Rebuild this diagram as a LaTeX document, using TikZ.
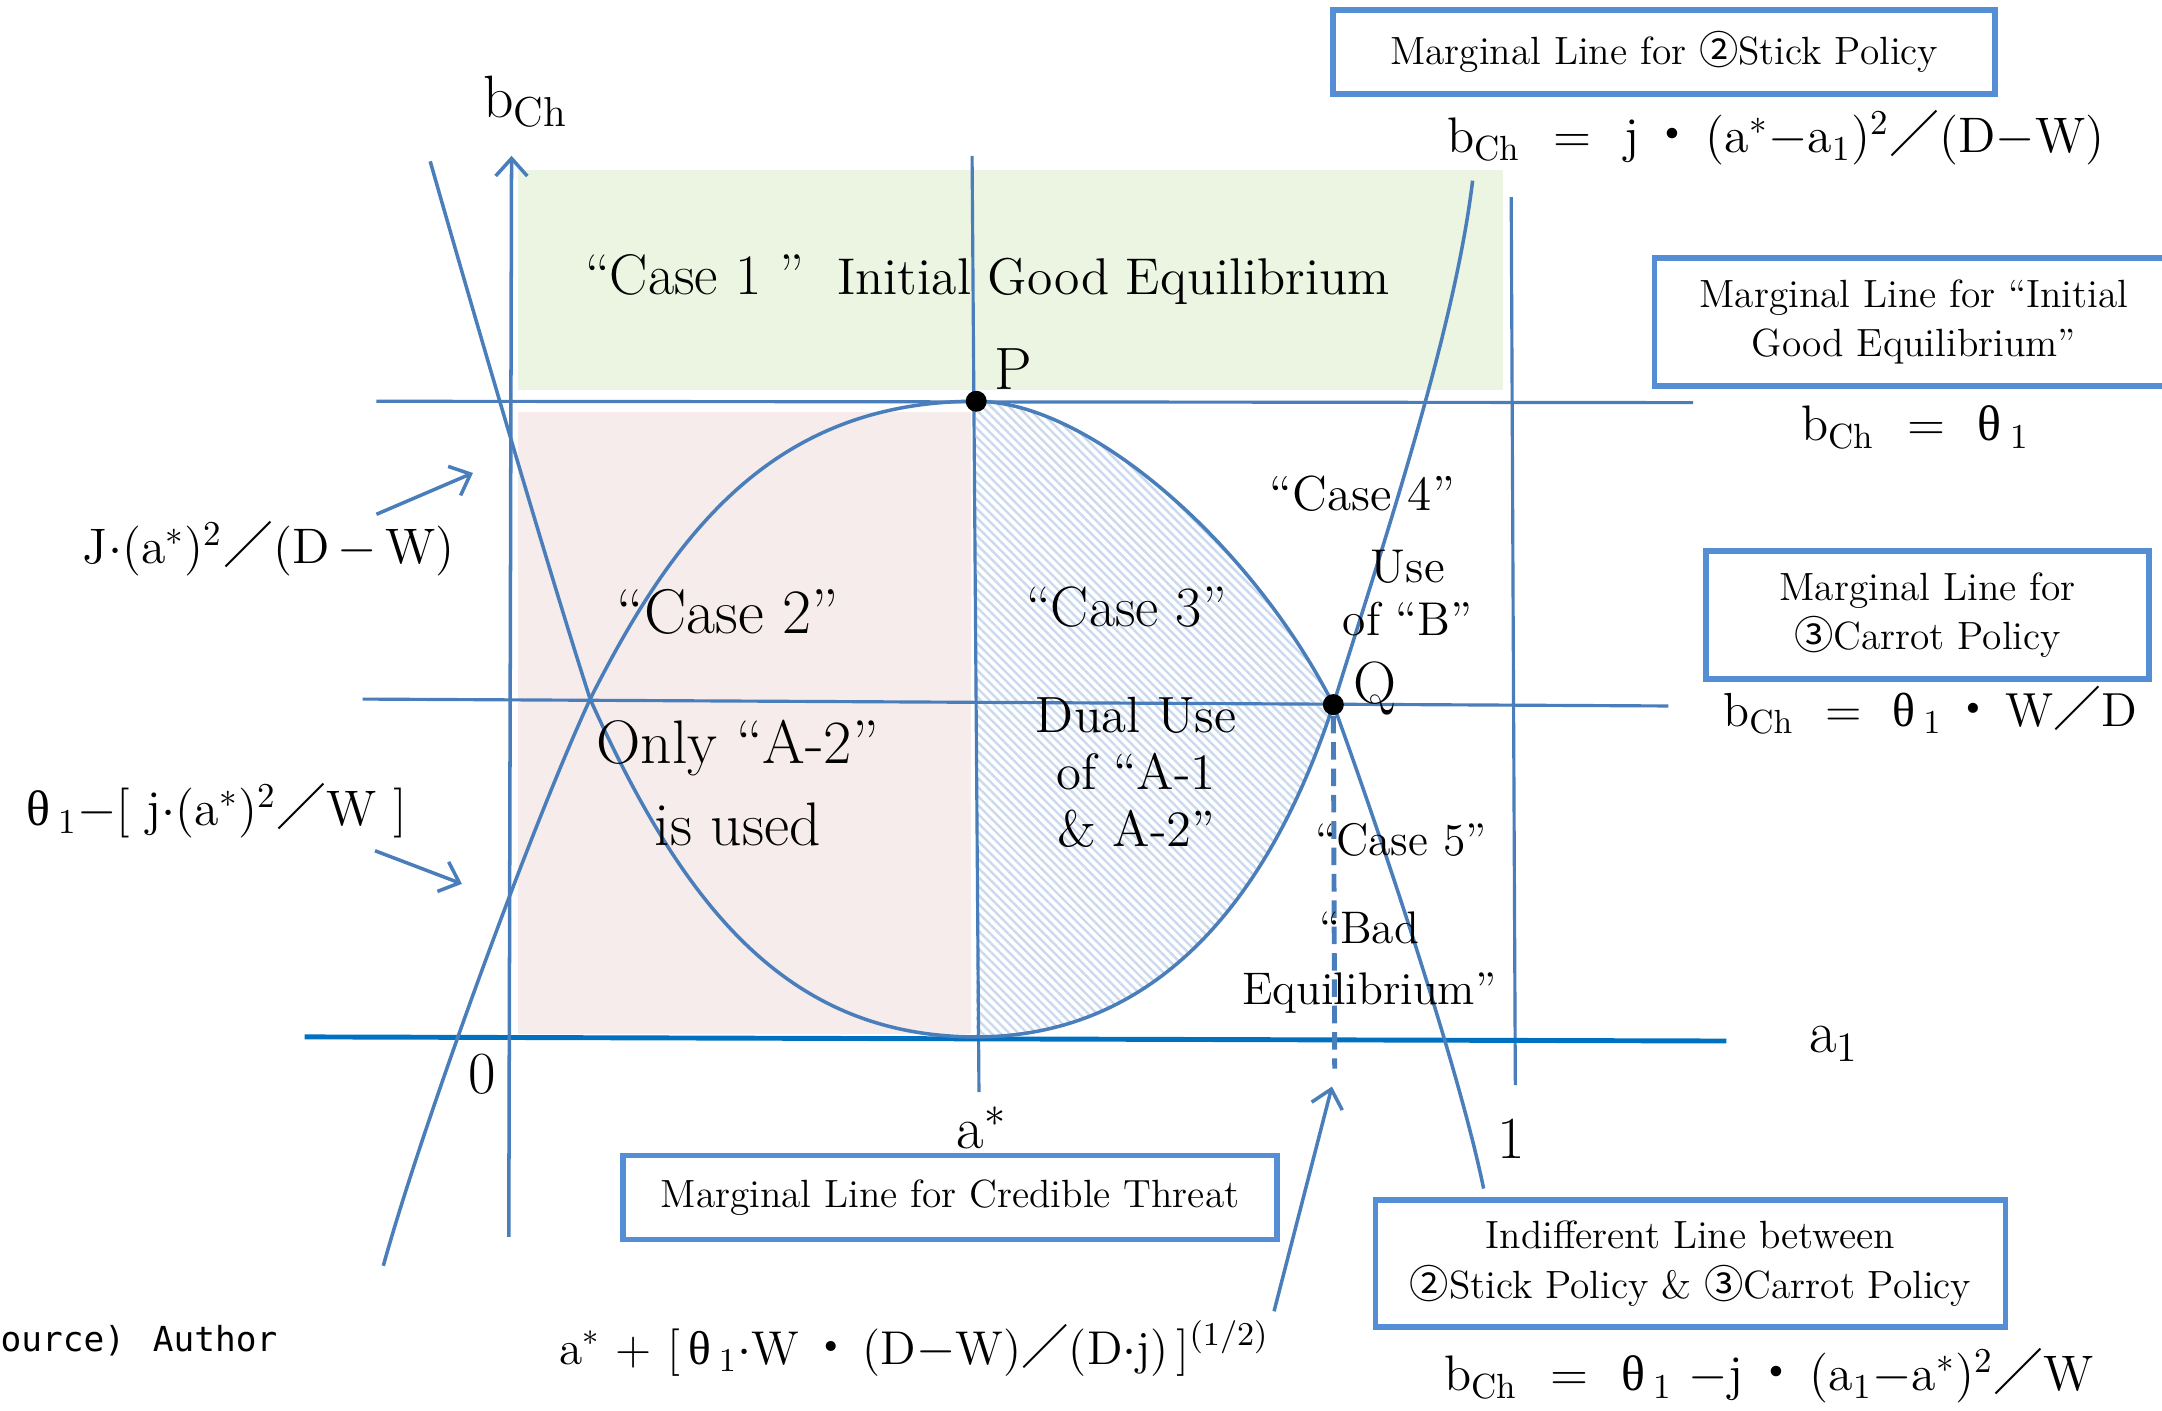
\documentclass[tikz,border=0pt]{standalone}
\usepackage{fontspec}
\newfontfamily\cjk{Noto Sans CJK JP}
\newfontfamily\grk{Liberation Serif}
\newfontfamily\gothic{DejaVu Sans Mono}
\usetikzlibrary{arrows.meta,patterns.meta}
\definecolor{lineblue}{RGB}{74,126,187}
\definecolor{axisblue}{RGB}{0,112,192}
\definecolor{boxblue}{RGB}{85,142,213}
\definecolor{goodgreen}{RGB}{236,245,226}
\definecolor{casepink}{RGB}{246,236,236}
\definecolor{hatchblue}{RGB}{203,218,239}
\newcommand{\bch}{b\textsubscript{Ch}}
\newcommand{\thone}{{\grk θ}\,\textsubscript{1}}
\newcommand{\jdot}{{\cjk ・}}
\newcommand{\jsl}{{\cjk ／}}

\begin{document}
\begin{tikzpicture}[x=0.1379mm,y=-0.1379mm,
  mline/.style={draw=lineblue,line width=0.9pt},
  curve/.style={draw=lineblue,line width=1pt},
  axisline/.style={draw=axisblue,line width=1.4pt},
  pointer/.style={draw=lineblue,line width=1pt,-{Straight Barb[length=5pt,width=9pt]}},
  dot/.style={circle,fill=black,inner sep=0pt,minimum size=2.1mm},
  boxlabel/.style={draw=boxblue,line width=1.6pt,fill=white,align=center,inner sep=0pt,font=\fontsize{11.2}{14}\selectfont},
  formula/.style={inner sep=0pt,font=\fontsize{14.2}{17}\selectfont},
  axislabel/.style={inner sep=0pt,font=\fontsize{17}{20}\selectfont},
  casetext/.style={inner sep=0pt,align=center}]
\useasboundingbox (0,0) rectangle (1568,1023);
% Case regions
\fill[goodgreen] (376,123) rectangle (1090,283);
\fill[casepink] (376,299) rectangle (704,750);
\fill[pattern={Lines[angle=-45,distance=1.8pt,line width=0.7pt]},pattern color=hatchblue]
  (708,291) .. controls (790,291) and (908,395) .. (967,511)
  .. controls (920.5,653.5) and (838,752) .. (708,752) -- cycle;
% Marginal lines
\draw[mline] (273,291) -- (1228,292);
\draw[mline] (263,507) -- (1210,512);
\draw[mline] (705,113) -- (710,792);
\draw[mline] (1096,143) -- (1099,787);
% Axes
\draw[axisline] (221,752) -- (1252,755);
\draw[pointer] (369,897) -- (371,113);
% Stick policy line
\draw[curve] (312,117) .. controls (350,250) and (400,420) .. (428,507)
  .. controls (493.6,652.6) and (568,752) .. (708,752)
  .. controls (838,752) and (920.5,653.5) .. (967,511)
  .. controls (1003,395) and (1055,240) .. (1068,131);
% Indifferent line
\draw[curve] (278,918) .. controls (305,820) and (385,600) .. (428,507)
  .. controls (486.5,391.3) and (558,291) .. (708,291)
  .. controls (790,291) and (908,395) .. (967,511)
  .. controls (985,560) and (1055,760) .. (1076,862);
% Points P and Q
\node[dot] (P) at (708,291) {};
\node[dot] (Q) at (967,511) {};
\coordinate (qfoot) at (968,775);
\draw[mline,line width=1.4pt,dash pattern=on 5pt off 2.5pt] (Q) -- (qfoot);
\node[axislabel] (plabel) at (735,268) {P};
\node[axislabel] (qlabel) at (997,499) {Q};
% Axis labels
\node[axislabel] (bchlabel) at (381,74) {\bch};
\node[axislabel] (a1label) at (1330,757) {a\textsubscript{1}};
\node[axislabel] (zero) at (350,779) {0};
\node[axislabel] (one) at (1096,826) {1};
\node[axislabel] (astar) at (712,818) {a$^*$};
% Cases
\node[casetext,font=\fontsize{14.7}{17}\selectfont] (case1) at (716,203) {{\fontsize{16.3}{18}\selectfont``Case 1 ''}\ \ Initial Good Equilibrium};
\node[casetext,font=\fontsize{18}{20}\selectfont] (case2) at (528,444) {``Case 2''};
\node[casetext,font=\fontsize{17.5}{23.5}\selectfont] (case2b) at (535,568) {Only ``A-2''\\is used};
\node[casetext,font=\fontsize{16.2}{18}\selectfont] (case3) at (817,440) {``Case 3''};
\node[casetext,font=\fontsize{14.5}{16.2}\selectfont] (case3b) at (824,560) {Dual Use\\of ``A-1\\\& A-2''};
\node[casetext,font=\fontsize{14}{16}\selectfont] (case4) at (988,358) {``Case 4''};
\node[casetext,font=\fontsize{13.5}{15.2}\selectfont] (case4b) at (1021,430) {Use\\of ``B''};
\node[casetext,font=\fontsize{13}{16}\selectfont] (case5) at (1016,609) {``Case 5''};
\node[casetext,font=\fontsize{13}{17.2}\selectfont] (case5b) at (993,698) {``Bad\\Equilibrium''};
% Boxes
\node[boxlabel,minimum width=66.2mm,minimum height=8.4mm] (stickbox) at (1207,37.5) {Marginal Line for\ {\cjk ②}Stick Policy};
\node[boxlabel,minimum width=51.9mm,minimum height=12.8mm] (goodbox) at (1388,233.5) {Marginal Line for ``Initial\\Good Equilibrium''};
\node[boxlabel,minimum width=44.3mm,minimum height=12.8mm] (carrotbox) at (1398,446) {Marginal Line for\\{\cjk ③}Carrot Policy};
\node[boxlabel,minimum width=65.4mm,minimum height=8.4mm] (threatbox) at (689,868.5) {Marginal Line for Credible Threat};
\node[boxlabel,minimum width=63mm,minimum height=12.7mm] (indiffbox) at (1226,916.5) {Indifferent Line between\\{\cjk ②}Stick Policy \&\ {\cjk ③}Carrot Policy};
% Formulas
\node[formula] (stickeq) at (1288,100) {\bch\ \ =\ \ j\,\jdot\,(a$^*$$-$a\textsubscript{1})\textsuperscript{2}\jsl(D$-$W)};
\node[formula] (goodeq) at (1389,310) {\bch\ \ =\ \ \thone};
\node[formula,font=\fontsize{13.6}{17}\selectfont] (carroteq) at (1400,515) {\bch\ \ =\ \ \thone\,\jdot\,W\jsl D};
\node[formula] (indiffeq) at (1283,998) {\bch\ \ =\ \ \thone\ $-$j\,\jdot\,(a\textsubscript{1}$-$a$^*$)\textsuperscript{2}\jsl W};
\node[formula] (jeq) at (195,398) {J$\cdot$(a$^*$)\textsuperscript{2}\jsl(D$\,-\,$W)};
\node[formula] (theq) at (157,588) {\thone$-$[\ j$\cdot$(a$^*$)\textsuperscript{2}\jsl W\ ]};
\node[formula,font=\fontsize{13.5}{16}\selectfont] (threateq) at (663,978) {a$^*$ + [\,\thone$\cdot$W\,\jdot\,(D$-$W)\jsl(D$\cdot$j)\,]\textsuperscript{(1/2)}};
\node[inner sep=0pt,anchor=west,font=\gothic\fontsize{9.8}{12}\selectfont] (source) at (0,972) {ource)~\hspace{2pt}Author};
% Pointers to intercepts
\coordinate (jfrom) at (273,373);
\coordinate (jto) at (343,343);
\coordinate (thfrom) at (272,617);
\coordinate (thto) at (335,641);
\coordinate (threatfrom) at (924,951);
\coordinate (threatto) at (966,788);
\draw[pointer] (jfrom) -- (jto);
\draw[pointer] (thfrom) -- (thto);
\draw[pointer] (threatfrom) -- (threatto);
\end{tikzpicture}
\end{document}
